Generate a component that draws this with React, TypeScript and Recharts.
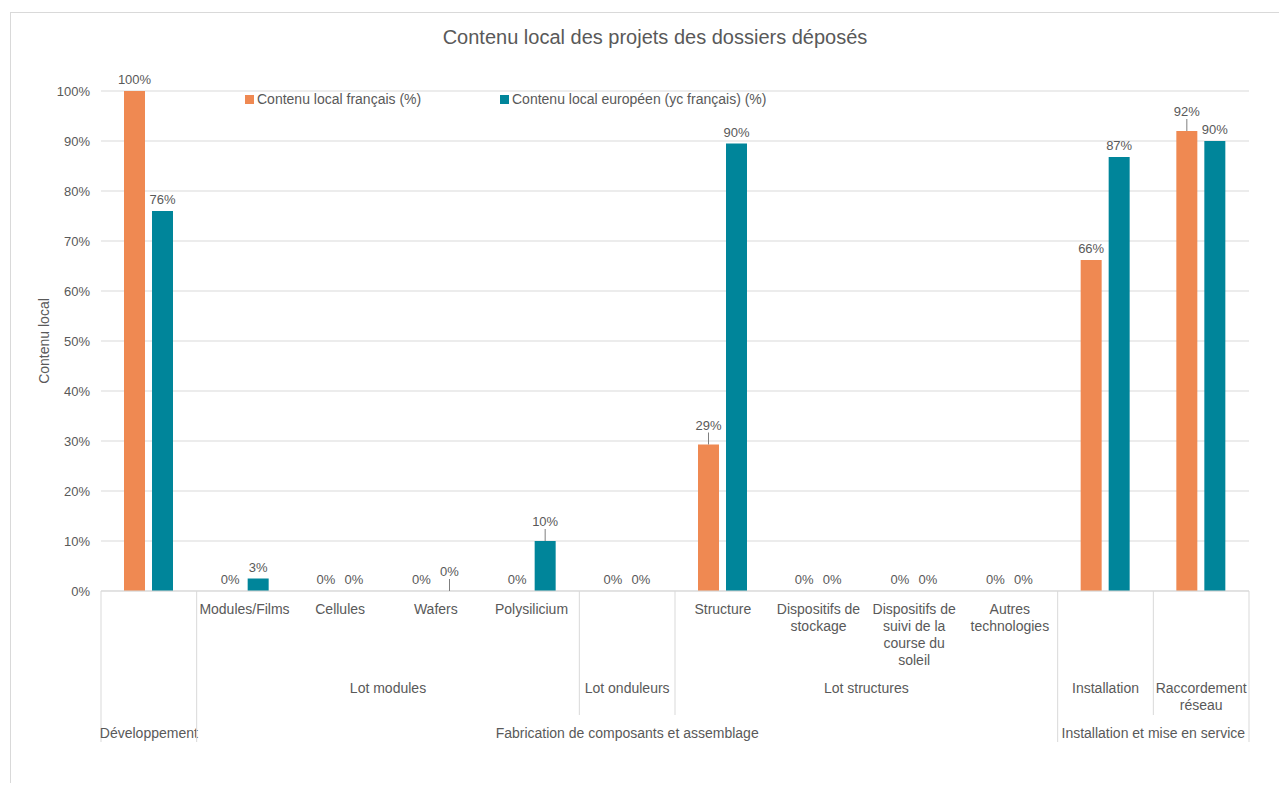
import React from 'react';
import { BarChart, Bar, XAxis, YAxis, CartesianGrid, LabelList, Legend } from 'recharts';

const subLabels = [
  '',
  'Modules/Films',
  'Cellules',
  'Wafers',
  'Polysilicium',
  '',
  'Structure',
  'Dispositifs de stockage',
  'Dispositifs de suivi de la course du soleil',
  'Autres technologies',
  '',
  '',
];

const lotLabels = [
  '',
  'Lot modules',
  'Lot modules',
  'Lot modules',
  'Lot modules',
  'Lot onduleurs',
  'Lot structures',
  'Lot structures',
  'Lot structures',
  'Lot structures',
  'Installation',
  'Raccordement réseau',
];

const phaseLabels = [
  'Développement',
  'Fabrication de composants et assemblage',
  'Fabrication de composants et assemblage',
  'Fabrication de composants et assemblage',
  'Fabrication de composants et assemblage',
  'Fabrication de composants et assemblage',
  'Fabrication de composants et assemblage',
  'Fabrication de composants et assemblage',
  'Fabrication de composants et assemblage',
  'Fabrication de composants et assemblage',
  'Installation et mise en service',
  'Installation et mise en service',
];

const frenchValues = [100, 0, 0, 0, 0, 0, 29.3, 0, 0, 0, 66.2, 92];
const europeanValues = [76, 2.5, 0, 0, 10, 0, 89.5, 0, 0, 0, 86.8, 90];

const yTicks = [0, 10, 20, 30, 40, 50, 60, 70, 80, 90, 100];

const ORANGE = '#EF8952';
const TEAL = '#00859A';
const TEXT = '#595959';
const GRID = '#D9D9D9';
const FONT = '"Liberation Sans", Arial, sans-serif';

const CHART_W = 1270;
const CHART_H = 770;
const MARGIN = { top: 78, right: 32, bottom: 0, left: 0 };
const Y_AXIS_W = 90;

// étiquettes déplacées vers le haut avec un trait de rappel (comme dans Excel)
const LIFT_FR = [6, 11];
const LIFT_EU = [3, 4];

const data = subLabels.map((_, i) => ({
  key: `c${i}`,
  fr: frenchValues[i],
  eu: europeanValues[i],
}));

// découpe simple des libellés trop longs
const wrap = (text: string, maxChars: number) => {
  const words = text.split(' ');
  const lines: string[] = [];
  let cur = '';
  words.forEach((w) => {
    if (!cur) cur = w;
    else if ((cur + ' ' + w).length <= maxChars) cur = cur + ' ' + w;
    else {
      lines.push(cur);
      cur = w;
    }
  });
  if (cur) lines.push(cur);
  return lines;
};

const MultiText = ({ x, y, text, maxChars }: { x: number; y: number; text: string; maxChars: number }) => {
  const lines = wrap(text, maxChars);
  return (
    <text x={x} y={y} textAnchor="middle" fill={TEXT} fontSize={14} fontFamily={FONT}>
      {lines.map((l, k) => (
        <tspan key={k} x={x} dy={k === 0 ? 0 : 17}>
          {l}
        </tspan>
      ))}
    </text>
  );
};

const MultiLevelTick = (props: any) => {
  const { x, y, payload } = props;
  const i: number = payload?.index ?? props.index ?? 0;
  const plotW = CHART_W - MARGIN.left - MARGIN.right - Y_AXIS_W;
  const bw = payload?.offset ? payload.offset * 2 : plotW / subLabels.length;
  const left = x - bw / 2;
  const n = subLabels.length;
  const parts: React.ReactNode[] = [];

  // séparateurs verticaux
  const phaseStart = i === 0 || phaseLabels[i] !== phaseLabels[i - 1];
  const lotStart = lotLabels[i] !== lotLabels[i - 1];
  if (phaseStart) {
    parts.push(<line key="lp" x1={left} x2={left} y1={y} y2={y + 151} stroke={GRID} />);
  } else if (lotStart) {
    parts.push(<line key="ll" x1={left} x2={left} y1={y} y2={y + 124} stroke={GRID} />);
  }
  if (i === n - 1) {
    parts.push(<line key="lr" x1={left + bw} x2={left + bw} y1={y} y2={y + 151} stroke={GRID} />);
  }

  if (subLabels[i]) {
    parts.push(<MultiText key="t1" x={x} y={y + 23} text={subLabels[i]} maxChars={14} />);
  }

  if (lotLabels[i] && (i === 0 || lotStart)) {
    let span = 1;
    while (i + span < n && lotLabels[i + span] === lotLabels[i]) span++;
    parts.push(
      <MultiText key="t2" x={left + (span * bw) / 2} y={y + 102} text={lotLabels[i]} maxChars={span === 1 ? 14 : 60} />
    );
  }

  if (phaseStart) {
    let span = 1;
    while (i + span < n && phaseLabels[i + span] === phaseLabels[i]) span++;
    parts.push(
      <MultiText key="t3" x={left + (span * bw) / 2} y={y + 147} text={phaseLabels[i]} maxChars={80} />
    );
  }

  return <g>{parts}</g>;
};

const makeValueLabel = (lifted: number[]) => (props: any) => {
  const { x, y, width, value, index } = props;
  if (value === undefined || value === null) return null;
  const cx = Number(x) + Number(width) / 2;
  const top = Number(y);
  const lift = lifted.includes(index) ? 8 : 0;
  return (
    <g>
      {lift > 0 && <line x1={cx} x2={cx} y1={top} y2={top - 12} stroke="#7F7F7F" strokeWidth={1} />}
      <text x={cx} y={top - 7 - lift} textAnchor="middle" fill={TEXT} fontSize={13} fontFamily={FONT}>
        {`${Math.round(Number(value))}%`}
      </text>
    </g>
  );
};

// hauteur quasi nulle pour garder les barres à 0 % (et leurs étiquettes)
const tinyForZero = (value: any) => (Number(value) === 0 ? 0.01 : 0);

const LegendContent = () => (
  <div style={{ position: 'relative', width: 600, height: 16, fontFamily: FONT, fontSize: 14, color: TEXT }}>
    <div style={{ position: 'absolute', left: 0, top: 0, display: 'flex', alignItems: 'center', whiteSpace: 'nowrap' }}>
      <span style={{ width: 9, height: 9, background: ORANGE, marginRight: 3, display: 'inline-block' }} />
      Contenu local français (%)
    </div>
    <div style={{ position: 'absolute', left: 255, top: 0, display: 'flex', alignItems: 'center', whiteSpace: 'nowrap' }}>
      <span style={{ width: 9, height: 9, background: TEAL, marginRight: 3, display: 'inline-block' }} />
      Contenu local européen (yc français) (%)
    </div>
  </div>
);

const App: React.FC = () => {
  return (
    <div
      style={{
        position: 'relative',
        marginLeft: 2,
        marginTop: 4,
        width: CHART_W,
        height: CHART_H,
        borderLeft: `1px solid ${GRID}`,
        borderTop: `1px solid ${GRID}`,
        fontFamily: FONT,
        background: '#fff',
      }}
    >
      <div
        style={{
          position: 'absolute',
          top: 12,
          left: 0,
          width: 1288,
          textAlign: 'center',
          fontSize: 20,
          lineHeight: '24px',
          color: TEXT,
        }}
      >
        Contenu local des projets des dossiers déposés
      </div>
      <BarChart width={CHART_W} height={CHART_H} data={data} margin={MARGIN} barSize={21} barGap={7}>
        <CartesianGrid vertical={false} stroke={GRID} />
        <XAxis
          dataKey="key"
          interval={0}
          height={CHART_H - MARGIN.top - 500}
          tickSize={0}
          tickMargin={0}
          tickLine={false}
          axisLine={{ stroke: GRID }}
          tick={<MultiLevelTick />}
        />
        <YAxis
          width={Y_AXIS_W}
          domain={[0, 100]}
          ticks={yTicks}
          tickFormatter={(v: number) => `${v}%`}
          axisLine={false}
          tickLine={false}
          tickMargin={5}
          tick={{ fill: TEXT, fontSize: 13, fontFamily: FONT }}
          label={{
            value: 'Contenu local',
            angle: -90,
            position: 'insideLeft',
            offset: 33,
            fill: TEXT,
            fontSize: 14,
            fontFamily: FONT,
            style: { textAnchor: 'middle' },
          }}
        />
        <Legend
          layout="vertical"
          verticalAlign="middle"
          align="center"
          content={<LegendContent />}
          wrapperStyle={{ top: 78, left: 234, width: 600 }}
        />
        <Bar
          dataKey="fr"
          name="Contenu local français (%)"
          fill={ORANGE}
          minPointSize={tinyForZero}
          isAnimationActive={false}
        >
          <LabelList dataKey="fr" content={makeValueLabel(LIFT_FR)} />
        </Bar>
        <Bar
          dataKey="eu"
          name="Contenu local européen (yc français) (%)"
          fill={TEAL}
          minPointSize={tinyForZero}
          isAnimationActive={false}
        >
          <LabelList dataKey="eu" content={makeValueLabel(LIFT_EU)} />
        </Bar>
      </BarChart>
    </div>
  );
};

export default App;
